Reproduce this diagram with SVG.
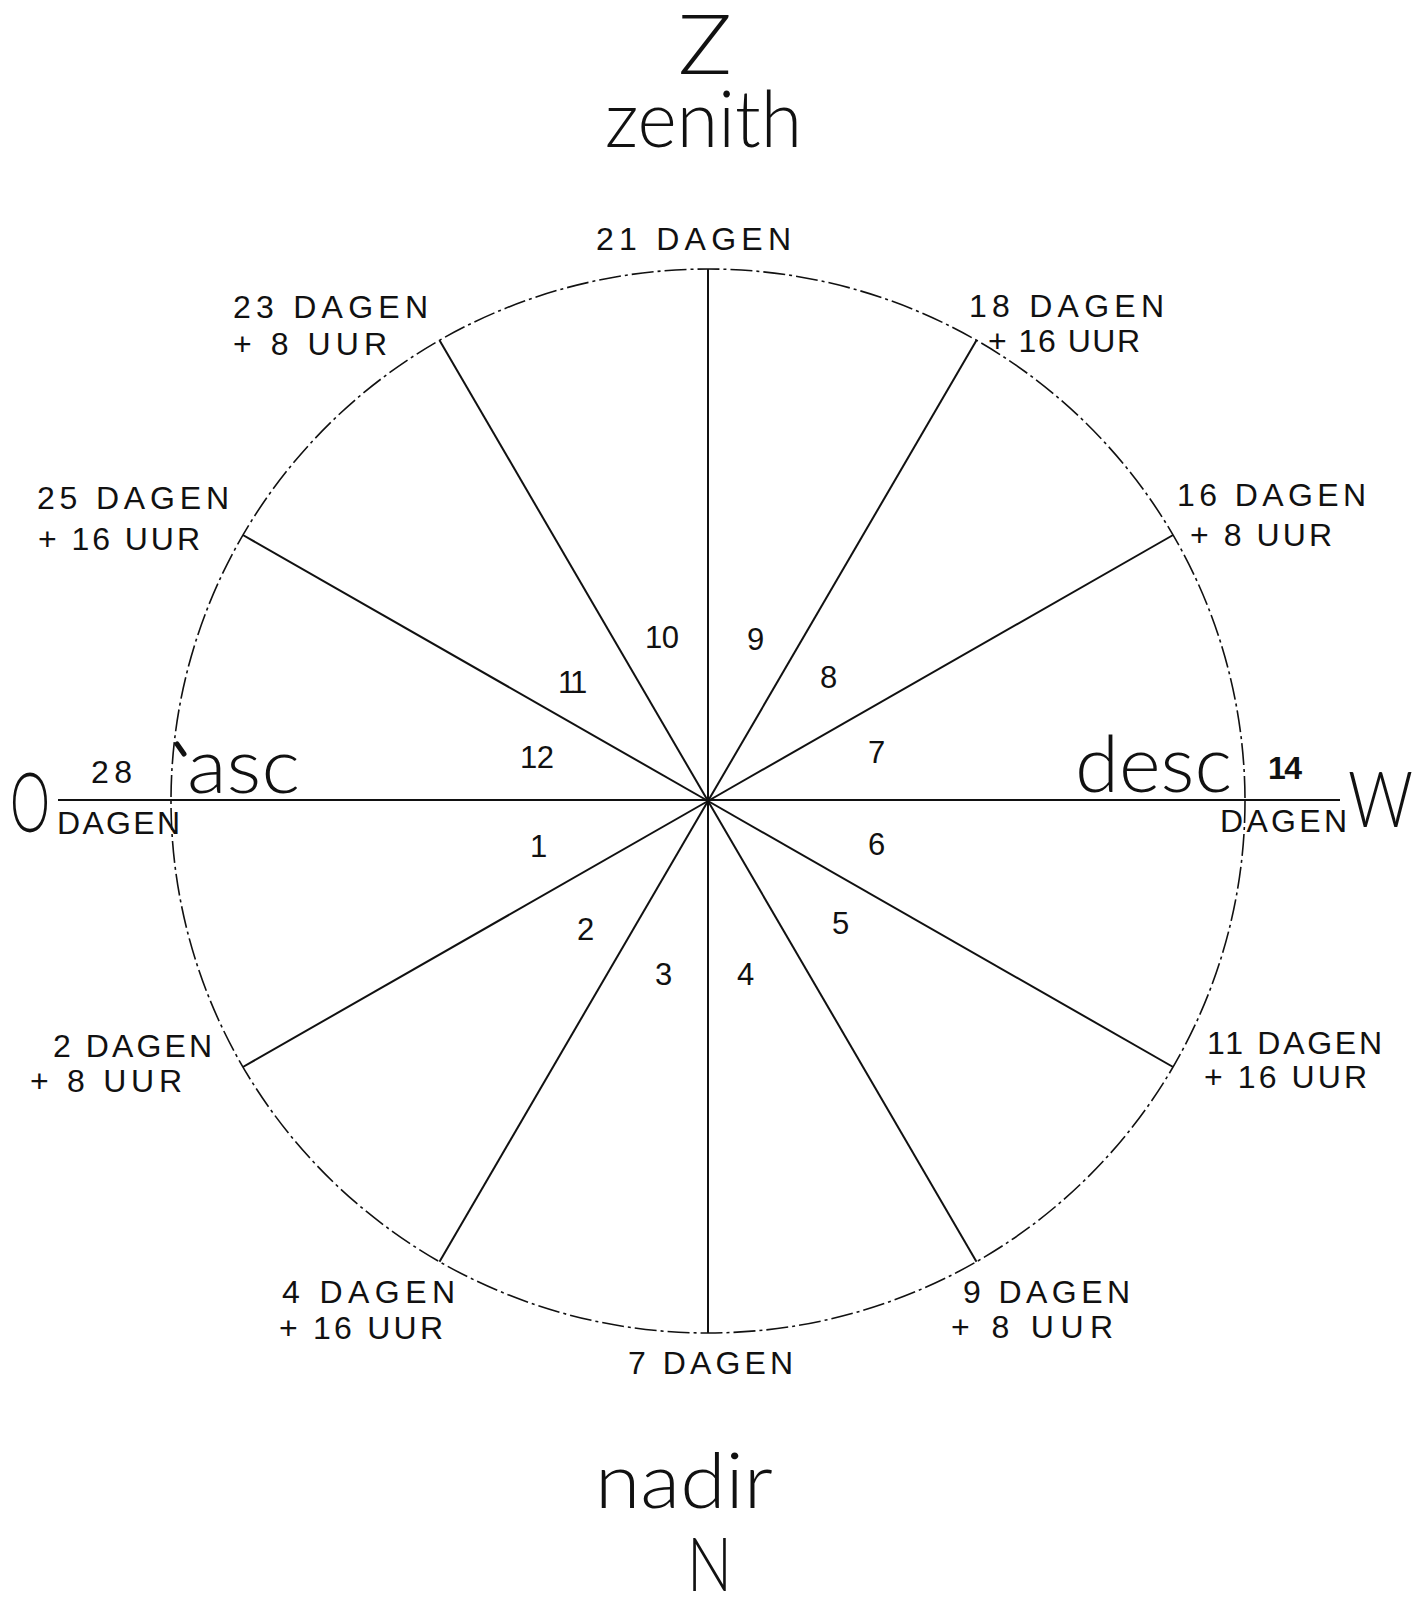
<svg xmlns="http://www.w3.org/2000/svg" width="1428" height="1597" viewBox="0 0 1428 1597">
<style>
.big{font-family:"Lato","Open Sans","Liberation Sans",sans-serif;font-weight:300;fill:#111}
.lbl{font-family:"Liberation Sans","Arial",sans-serif;font-size:32px;fill:#111}
.num{font-family:"Liberation Sans","Arial",sans-serif;font-size:31px;fill:#111}
.spoke{stroke:#111;stroke-width:2;fill:none}
.rim{stroke:#111;stroke-width:1.6;fill:none;stroke-dasharray:22 4 3 4}
</style>
<rect width="1428" height="1597" fill="#fff"/>
<g id="wheel">
<ellipse class="rim" cx="708" cy="801" rx="537" ry="532"/>
</g>
<g id="connectors">
<line class="spoke" x1="58" y1="800" x2="1340" y2="800"/>
<line class="spoke" x1="708" y1="269" x2="708" y2="1333"/>
<line class="spoke" x1="708" y1="801" x2="976.5" y2="340.3"/>
<line class="spoke" x1="708" y1="801" x2="1173.1" y2="535"/>
<line class="spoke" x1="708" y1="801" x2="1173.1" y2="1067"/>
<line class="spoke" x1="708" y1="801" x2="976.5" y2="1261.7"/>
<line class="spoke" x1="708" y1="801" x2="439.5" y2="1261.7"/>
<line class="spoke" x1="708" y1="801" x2="242.9" y2="1067"/>
<line class="spoke" x1="708" y1="801" x2="242.9" y2="535"/>
<line class="spoke" x1="708" y1="801" x2="439.5" y2="340.3"/>
<line x1="177" y1="744" x2="184" y2="754" stroke="#111" stroke-width="5" stroke-linecap="round"/>
</g>
<g id="cardinals">
<text class="big" x="678" y="74" font-size="82" textLength="54" lengthAdjust="spacingAndGlyphs">Z</text>
<text class="big" x="605" y="147" font-size="78" textLength="197" lengthAdjust="spacingAndGlyphs">zenith</text>
<text class="big" x="187" y="793" font-size="77" textLength="113" lengthAdjust="spacingAndGlyphs">asc</text>
<text class="big" x="1075" y="792" font-size="78" textLength="157" lengthAdjust="spacingAndGlyphs">desc</text>
<text class="big" x="595" y="1508" font-size="77" textLength="178" lengthAdjust="spacingAndGlyphs">nadir</text>
<text class="big" x="687" y="1591" font-size="75" textLength="45" lengthAdjust="spacingAndGlyphs">N</text>
<text class="big" x="1348" y="827" font-size="77" textLength="65" lengthAdjust="spacingAndGlyphs">W</text>
<text class="big" x="10" y="832" font-size="82" textLength="40" lengthAdjust="spacingAndGlyphs">O</text>
</g>
<g id="durations">
<text class="lbl" x="596" y="250" textLength="195" lengthAdjust="spacing">21 DAGEN</text>
<text class="lbl" x="233" y="318" textLength="195" lengthAdjust="spacing">23 DAGEN</text>
<text class="lbl" x="233" y="355" textLength="154" lengthAdjust="spacing">+ 8 UUR</text>
<text class="lbl" x="37" y="509" textLength="192" lengthAdjust="spacing">25 DAGEN</text>
<text class="lbl" x="38" y="550" textLength="162" lengthAdjust="spacing">+ 16 UUR</text>
<text class="lbl" x="969" y="317" textLength="195" lengthAdjust="spacing">18 DAGEN</text>
<text class="lbl" x="988" y="352" textLength="152" lengthAdjust="spacing">+ 16 UUR</text>
<text class="lbl" x="1177" y="506" textLength="189" lengthAdjust="spacing">16 DAGEN</text>
<text class="lbl" x="1190" y="546" textLength="142" lengthAdjust="spacing">+ 8 UUR</text>
<text class="lbl" x="91" y="783" font-size="28" textLength="41" lengthAdjust="spacing">28</text>
<text class="lbl" x="57" y="834" font-size="30" textLength="123" lengthAdjust="spacing">DAGEN</text>
<text class="lbl" x="1268" y="779" font-size="24" font-weight="bold" textLength="34" lengthAdjust="spacing">14</text>
<text class="lbl" x="1220" y="832" font-size="30" textLength="127" lengthAdjust="spacing">DAGEN</text>
<text class="lbl" x="53" y="1057" textLength="159" lengthAdjust="spacing">2 DAGEN</text>
<text class="lbl" x="30" y="1092" textLength="152" lengthAdjust="spacing">+ 8 UUR</text>
<text class="lbl" x="1207" y="1054" textLength="175" lengthAdjust="spacing">11 DAGEN</text>
<text class="lbl" x="1204" y="1088" textLength="163" lengthAdjust="spacing">+ 16 UUR</text>
<text class="lbl" x="282" y="1303" textLength="173" lengthAdjust="spacing">4 DAGEN</text>
<text class="lbl" x="279" y="1339" textLength="164" lengthAdjust="spacing">+ 16 UUR</text>
<text class="lbl" x="963" y="1303" textLength="167" lengthAdjust="spacing">9 DAGEN</text>
<text class="lbl" x="951" y="1338" textLength="162" lengthAdjust="spacing">+ 8 UUR</text>
<text class="lbl" x="628" y="1374" textLength="165" lengthAdjust="spacing">7 DAGEN</text>
</g>
<g id="houses">
<text class="num" x="645" y="648" textLength="34" lengthAdjust="spacing">10</text>
<text class="num" x="747" y="650">9</text>
<text class="num" x="558" y="693" letter-spacing="-3">11</text>
<text class="num" x="820" y="688">8</text>
<text class="num" x="520" y="768" textLength="34" lengthAdjust="spacing">12</text>
<text class="num" x="868" y="763">7</text>
<text class="num" x="530" y="857">1</text>
<text class="num" x="868" y="855">6</text>
<text class="num" x="577" y="940">2</text>
<text class="num" x="832" y="934">5</text>
<text class="num" x="655" y="985">3</text>
<text class="num" x="737" y="985">4</text>
</g>
</svg>
